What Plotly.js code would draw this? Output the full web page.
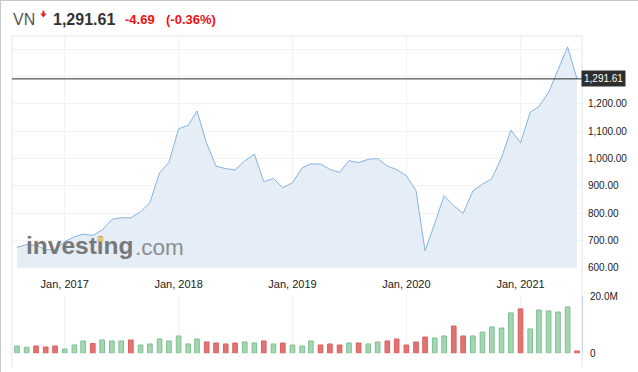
<!DOCTYPE html>
<html>
<head>
<meta charset="utf-8">
<script src="https://cdn.plot.ly/plotly-3.0.1.min.js"></script>
<style>
html,body{margin:0;padding:0;background:#fff;}
#chart{width:638px;height:372px;}
</style>
</head>
<body>
<div id="chart"></div>
<script>
// ---- data ----
const months = ['2016-08-01','2016-09-01','2016-10-01','2016-11-01','2016-12-01',
'2017-01-01','2017-02-01','2017-03-01','2017-04-01','2017-05-01','2017-06-01','2017-07-01','2017-08-01','2017-09-01','2017-10-01','2017-11-01','2017-12-01',
'2018-01-01','2018-02-01','2018-03-01','2018-04-01','2018-05-01','2018-06-01','2018-07-01','2018-08-01','2018-09-01','2018-10-01','2018-11-01','2018-12-01',
'2019-01-01','2019-02-01','2019-03-01','2019-04-01','2019-05-01','2019-06-01','2019-07-01','2019-08-01','2019-09-01','2019-10-01','2019-11-01','2019-12-01',
'2020-01-01','2020-02-01','2020-03-01','2020-04-01','2020-05-01','2020-06-01','2020-07-01','2020-08-01','2020-09-01','2020-10-01','2020-11-01','2020-12-01',
'2021-01-01','2021-02-01','2021-03-01','2021-04-01','2021-05-01','2021-06-01','2021-07-01'];
const prices = [674.5,685,682,666,665,696,713,723,718,738,777,783,783,805,838,948,986,1109,1122,1174,
1055,972,963,958,991,1016,915,927,893,911,966,980,980,960,949,992,985,997,1000,972,
960,937,882,662,762,864,827,799,881,906,926,1003,1104,1058,1169,1191,1242,1326,1409,1291.61];
const volumes = [2.56,2.1,2.56,2.2,2.56,1.5,2.9,4.3,3.4,4.65,4.3,4.3,4.65,2.9,3.26,5.0,4.3,6.05,3.26,5.0,
3.95,3.6,3.26,3.6,3.95,3.6,4.3,3.26,3.6,2.9,2.56,4.3,2.9,3.26,2.9,3.6,3.6,3.26,3.95,4.3,
5.0,2.9,3.95,5.7,5.35,6.05,9.5,6.05,6.05,7.4,9.2,8.8,14.1,15.5,8.5,15.1,14.8,14.4,16.2,0.8];
const volDir = ['u','u','d','d','d','u','u','u','d','u','u','u','d','u','u','u','u','u','u','u',
'd','d','d','d','u','u','d','u','d','u','u','u','d','d','d','u','d','u','u','d',
'd','d','d','d','u','u','d','d','u','u','u','u','u','d','u','u','u','u','u','d'];
const xTickVals = ['2017-01-01','2018-01-01','2019-01-01','2020-01-01','2021-01-01'];
const xTickText = ['Jan, 2017','Jan, 2018','Jan, 2019','Jan, 2020','Jan, 2021'];
const priceTickVals = [600,700,800,900,1000,1100,1200,1300,1400];
const priceTickText = ['600.00','700.00','800.00','900.00','1,000.00','1,100.00','1,200.00','',''];
const volTickVals = [0,20];
const volTickText = ['0','20.0M'];
const lastPrice = 1291.61;
const symbol = 'VN';
const lastText = '1,291.61';
const changeText = '-4.69';
const changePctText = '(-0.36%)';

// ---- layout helpers (pixel -> paper) ----
const L=12, R=582, T=36, B=367;
function px(x){return (x-L)/(R-L);}
function py(y){return (B-y)/(B-T);}

const FONT = 'Arial, "Liberation Sans", sans-serif';
const green = '#a5d6b2', greenLine = '#7dbf92', red = '#e27373', redLine = '#d86060';

const traces = [
  {
    x: months, y: prices, type: 'scatter', mode: 'lines',
    line: {color: '#84b3de', width: 1},
    fill: 'tozeroy', fillcolor: '#e5edf6',
    xaxis: 'x', yaxis: 'y', hoverinfo: 'skip'
  },
  {
    x: months, y: volumes, type: 'bar',
    marker: {
      color: volDir.map(d => d === 'u' ? green : red),
      line: {color: volDir.map(d => d === 'u' ? greenLine : redLine), width: 1}
    },
    xaxis: 'x', yaxis: 'y2', hoverinfo: 'skip'
  }
];

const arrowPath = 'M ' + px(42.4) + ' ' + py(10.8) + ' L ' + px(44.4) + ' ' + py(10.8) +
  ' L ' + px(44.4) + ' ' + py(13.4) + ' L ' + px(46.6) + ' ' + py(13.4) +
  ' L ' + px(43.4) + ' ' + py(17.4) + ' L ' + px(40.2) + ' ' + py(13.4) +
  ' L ' + px(42.4) + ' ' + py(13.4) + ' Z';

const layout = {
  width: 638, height: 372,
  margin: {l: L, r: 638 - R, t: T, b: 372 - B, pad: 0},
  paper_bgcolor: '#ffffff', plot_bgcolor: '#ffffff',
  showlegend: false, bargap: 0.47,
  font: {family: FONT, color: '#222'},
  xaxis: {
    type: 'date', range: ['2016-07-16','2021-07-17'],
    tickmode: 'array', tickvals: xTickVals, ticktext: xTickText,
    showgrid: true, gridcolor: '#f1f2f4', gridwidth: 1,
    zeroline: false, showline: false, ticks: '',
    tickfont: {size: 11, color: '#1a1a1a', family: FONT},
    ticklabelstandoff: 8, anchor: 'y', fixedrange: true
  },
  yaxis: {
    domain: [0.3, 1], range: [600, 1448.7], side: 'right', anchor: 'x',
    tickmode: 'array', tickvals: priceTickVals, ticktext: priceTickText,
    showgrid: true, gridcolor: '#f1f2f4', zeroline: false, showline: false, ticks: '',
    tickfont: {size: 10, color: '#1a1a1a', family: FONT},
    ticklabelstandoff: 5, fixedrange: true
  },
  yaxis2: {
    domain: [0.0414, 0.2145], range: [0, 20], side: 'right', anchor: 'x',
    tickmode: 'array', tickvals: volTickVals, ticktext: volTickText,
    showgrid: true, gridcolor: '#eeeff1', zeroline: false,
    showline: true, linecolor: '#c5d2e2', linewidth: 1, ticks: '',
    tickfont: {size: 10, color: '#1a1a1a', family: FONT},
    ticklabelstandoff: 5, fixedrange: true
  },
  shapes: [
    // outer page borders
    {type: 'line', xref: 'paper', yref: 'paper', x0: px(0.5), x1: px(0.5), y0: py(0), y1: py(372), line: {color: '#c8c8c8', width: 1}},
    {type: 'line', xref: 'paper', yref: 'paper', x0: px(0), x1: px(638), y0: py(0.5), y1: py(0.5), line: {color: '#c8c8c8', width: 1}},
    // chart frame
    {type: 'line', xref: 'paper', yref: 'paper', x0: 0, x1: 0, y0: 0, y1: 1, line: {color: '#e4e6eb', width: 1}},
    {type: 'line', xref: 'paper', yref: 'paper', x0: 0, x1: 1, y0: 1, y1: 1, line: {color: '#e4e6eb', width: 1}},
    {type: 'line', xref: 'paper', yref: 'paper', x0: 1, x1: 1, y0: 0, y1: 1, line: {color: '#e4e6eb', width: 1}, layer: 'below'},
    // last price line
    {type: 'line', xref: 'paper', yref: 'y', x0: 0, x1: 1, y0: lastPrice, y1: lastPrice, line: {color: '#2b2b2b', width: 1}},
    // down arrow
    {type: 'path', xref: 'paper', yref: 'paper', path: arrowPath, fillcolor: '#e0262b', line: {width: 0}}
  ],
  annotations: [
    {xref: 'paper', yref: 'y', x: 1, y: lastPrice, xanchor: 'left', yanchor: 'middle', xshift: -1,
     text: lastText, showarrow: false, bgcolor: '#2e2e2e', borderpad: 2,
     font: {size: 10, color: '#ffffff', family: FONT}},
    {xref: 'paper', yref: 'paper', x: px(11), y: py(19), xanchor: 'left', yanchor: 'middle',
     text: symbol, showarrow: false, font: {size: 16, color: '#555555', family: FONT}},
    {xref: 'paper', yref: 'paper', x: px(51), y: py(19), xanchor: 'left', yanchor: 'middle',
     text: '<b>' + lastText + '</b>', showarrow: false, font: {size: 16, color: '#333333', family: FONT}},
    {xref: 'paper', yref: 'paper', x: px(123), y: py(19.5), xanchor: 'left', yanchor: 'middle',
     text: '<b>' + changeText + '</b>', showarrow: false, font: {size: 13, color: '#ee1111', family: FONT}},
    {xref: 'paper', yref: 'paper', x: px(164), y: py(19.5), xanchor: 'left', yanchor: 'middle',
     text: '<b>' + changePctText + '</b>', showarrow: false, font: {size: 13, color: '#ee1111', family: FONT}},
    {xref: 'paper', yref: 'paper', x: px(24), y: py(245.7), xanchor: 'left', yanchor: 'middle',
     text: '<b>investing</b>', showarrow: false, opacity: 0.92, font: {size: 24.5, color: '#6e6f72', family: FONT}},
    {xref: 'paper', yref: 'paper', x: px(133), y: py(247.2), xanchor: 'left', yanchor: 'middle',
     text: '.com', showarrow: false, opacity: 0.92, font: {size: 22.5, color: '#86878a', family: FONT}},
    // orange dot on the second "i" of the logo
    {xref: 'paper', yref: 'paper', x: px(97.4), y: py(236.2), xanchor: 'left', yanchor: 'top',
     text: '&nbsp;', showarrow: false, width: 4.8, height: 4.4, borderpad: 0,
     bgcolor: '#e6c27c', font: {size: 1, color: '#e6c27c'}}
  ]
};

Plotly.newPlot('chart', traces, layout, {displayModeBar: false, staticPlot: true});
</script>
</body>
</html>
